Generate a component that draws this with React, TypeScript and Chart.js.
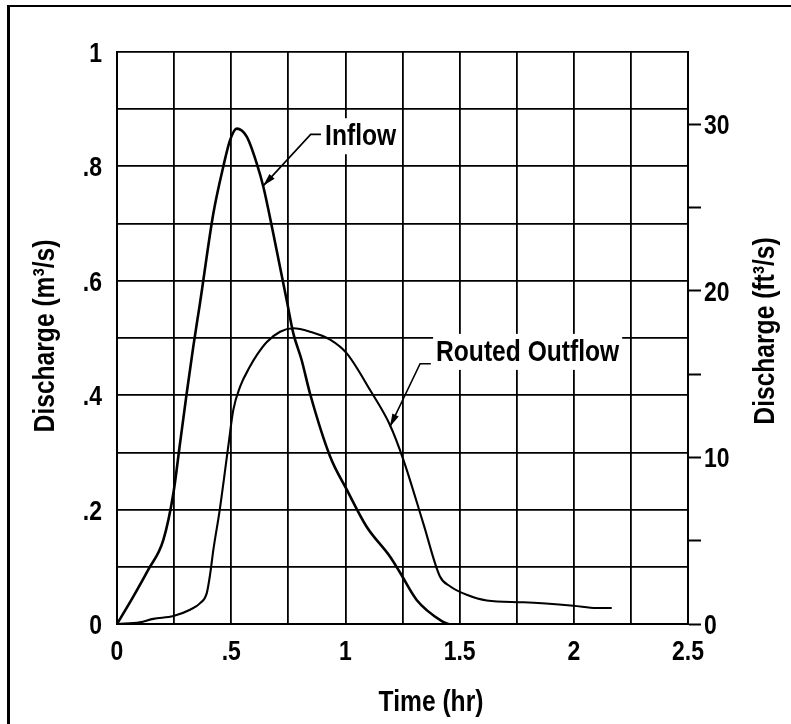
import React, { useEffect, useRef } from 'react';
import { Chart, registerables } from 'chart.js';

Chart.register(...registerables);

const FONT = "'Liberation Sans', Arial, sans-serif";
const NARROW = 0.82; // horizontal condensing to mimic a narrow sans face

// Inflow hydrograph (time in hr, discharge in m³/s)
const INFLOW_T = [0, 0.07, 0.137, 0.203, 0.247, 0.276, 0.305, 0.334, 0.363, 0.422, 0.465, 0.495, 0.524, 0.568, 0.612, 0.641, 0.684, 0.743, 0.772, 0.808, 0.845, 0.933, 1.006, 1.093, 1.195, 1.239, 1.312, 1.422, 1.451];
const INFLOW_Q = [0, 0.047, 0.095, 0.147, 0.229, 0.316, 0.403, 0.485, 0.56, 0.718, 0.799, 0.846, 0.866, 0.852, 0.805, 0.764, 0.683, 0.566, 0.508, 0.462, 0.403, 0.293, 0.235, 0.170, 0.118, 0.09, 0.042, 0.005, 0];

// Routed outflow hydrograph
const OUTFLOW_T = [0, 0.1, 0.159, 0.247, 0.32, 0.363, 0.393, 0.407, 0.422, 0.45, 0.487, 0.509, 0.539, 0.582, 0.612, 0.656, 0.714, 0.772, 0.845, 0.933, 1.006, 1.108, 1.195, 1.254, 1.341, 1.414, 1.458, 1.531, 1.619, 1.779, 1.998, 2.1, 2.166];
const OUTFLOW_Q = [0, 0.003, 0.009, 0.014, 0.025, 0.036, 0.054, 0.085, 0.13, 0.2, 0.31, 0.374, 0.415, 0.45, 0.47, 0.493, 0.511, 0.517, 0.511, 0.497, 0.473, 0.409, 0.348, 0.287, 0.176, 0.083, 0.066, 0.051, 0.041, 0.038, 0.032, 0.028, 0.028];

// Axis ticks and labels
const X_TICKS = [0, 0.25, 0.5, 0.75, 1, 1.25, 1.5, 1.75, 2, 2.25, 2.5];
const X_TICK_LABELS = ['0', '', '.5', '', '1', '', '1.5', '', '2', '', '2.5'];
const Y_TICKS = [0, 0.1, 0.2, 0.3, 0.4, 0.5, 0.6, 0.7, 0.8, 0.9, 1];
const Y_TICK_LABELS = ['0', '', '.2', '', '.4', '', '.6', '', '.8', '', '1'];
const Y2_TICKS = [0, 5, 10, 15, 20, 25, 30];
const Y2_TICK_LABELS = ['0', '', '10', '', '20', '', '30'];
const Y2_MAX = 34.34;

const X_TITLE = 'Time (hr)';
const Y_TITLE = 'Discharge (m³/s)';
const Y2_TITLE = 'Discharge (ft³/s)';

// Callout labels: text, baseline-left anchor, leader start, elbow, arrow tip (data coords)
const CALLOUT_TEXT = ['Inflow', 'Routed Outflow'];
const CALLOUT_ANCHOR = [[0.911, 0.837], [1.397, 0.46]];
const CALLOUT_START = [[0.893, 0.856], [1.374, 0.455]];
const CALLOUT_ELBOW = [[0.848, 0.856], [1.327, 0.455]];
const CALLOUT_TIP = [[0.64, 0.766], [1.195, 0.345]];

const toPoints = (t: number[], q: number[]) => t.map((v, i) => ({ x: v, y: q[i] }));

function narrowText(ctx: CanvasRenderingContext2D, text: string, x: number, y: number, size: number, align: CanvasTextAlign, rotate = 0) {
  ctx.save();
  ctx.font = `bold ${size}px ${FONT}`;
  ctx.fillStyle = '#000';
  ctx.textAlign = align;
  ctx.textBaseline = 'alphabetic';
  ctx.translate(x, y);
  if (rotate) ctx.rotate(rotate);
  ctx.scale(NARROW, 1);
  ctx.fillText(text, 0, 0);
  ctx.restore();
}

function narrowWidth(ctx: CanvasRenderingContext2D, text: string, size: number) {
  ctx.save();
  ctx.font = `bold ${size}px ${FONT}`;
  const w = ctx.measureText(text).width * NARROW;
  ctx.restore();
  return w;
}

const CALLOUT_SIZE = 30;
const TICK_SIZE = 28;
const TITLE_SIZE = 30;

const textPlugin = {
  id: 'narrowText',
  beforeDatasetsDraw(chart: any) {
    const { ctx, scales } = chart;
    ctx.save();
    CALLOUT_TEXT.forEach((txt, i) => {
      const x = scales.x.getPixelForValue(CALLOUT_ANCHOR[i][0]);
      const y = scales.y.getPixelForValue(CALLOUT_ANCHOR[i][1]);
      const w = narrowWidth(ctx, txt, CALLOUT_SIZE);
      ctx.fillStyle = '#fff';
      ctx.fillRect(x - 3, y - 27, w + 6, 36);
    });
    ctx.restore();
  },
  afterDatasetsDraw(chart: any) {
    const { ctx, scales } = chart;
    const px = (p: number[]) => [scales.x.getPixelForValue(p[0]), scales.y.getPixelForValue(p[1])];
    CALLOUT_TEXT.forEach((txt, i) => {
      const [ax, ay] = px(CALLOUT_ANCHOR[i]);
      narrowText(ctx, txt, ax, ay, CALLOUT_SIZE, 'left');
      const [sx, sy] = px(CALLOUT_START[i]);
      const [ex, ey] = px(CALLOUT_ELBOW[i]);
      const [tx, ty] = px(CALLOUT_TIP[i]);
      ctx.save();
      ctx.strokeStyle = '#000';
      ctx.fillStyle = '#000';
      ctx.lineWidth = 1.6;
      ctx.beginPath();
      ctx.moveTo(sx, sy);
      ctx.lineTo(ex, ey);
      ctx.lineTo(tx, ty);
      ctx.stroke();
      const ang = Math.atan2(ty - ey, tx - ex);
      const L = 13, H = 3.5;
      ctx.beginPath();
      ctx.moveTo(tx, ty);
      ctx.lineTo(tx - L * Math.cos(ang) + H * Math.sin(ang), ty - L * Math.sin(ang) - H * Math.cos(ang));
      ctx.lineTo(tx - L * Math.cos(ang) - H * Math.sin(ang), ty - L * Math.sin(ang) + H * Math.cos(ang));
      ctx.closePath();
      ctx.fill();
      ctx.restore();
    });
  },
  afterDraw(chart: any) {
    const { ctx, scales, chartArea } = chart;
    // tick labels, positioned by the chart's own scales
    const capHalf = 10;
    scales.y.ticks.forEach((t: any, i: number) => {
      const lbl = Y_TICK_LABELS[i];
      if (!lbl) return;
      narrowText(ctx, lbl, chartArea.left - 15, scales.y.getPixelForValue(t.value) + capHalf, TICK_SIZE, 'right');
    });
    scales.y2.ticks.forEach((t: any, i: number) => {
      const lbl = Y2_TICK_LABELS[i];
      if (!lbl) return;
      narrowText(ctx, lbl, chartArea.right + 16, scales.y2.getPixelForValue(t.value) + capHalf, TICK_SIZE, 'left');
    });
    scales.x.ticks.forEach((t: any, i: number) => {
      const lbl = X_TICK_LABELS[i];
      if (!lbl) return;
      narrowText(ctx, lbl, scales.x.getPixelForValue(t.value), chartArea.bottom + 36, TICK_SIZE, 'center');
    });
    // axis titles
    narrowText(ctx, X_TITLE, 431, 711, TITLE_SIZE, 'center');
    narrowText(ctx, Y_TITLE, 54, 336, TITLE_SIZE, 'center', -Math.PI / 2);
    narrowText(ctx, Y2_TITLE, 774, 331, TITLE_SIZE, 'center', -Math.PI / 2);
  },
};

export default function App() {
  const ref = useRef<HTMLCanvasElement | null>(null);

  useEffect(() => {
    if (!ref.current) return;
    const chart = new Chart(ref.current, {
      type: 'line',
      data: {
        datasets: [
          {
            label: 'Inflow',
            data: toPoints(INFLOW_T, INFLOW_Q),
            borderColor: '#000',
            borderWidth: 2.6,
            pointRadius: 0,
            cubicInterpolationMode: 'monotone',
            yAxisID: 'y',
          },
          {
            label: 'Routed Outflow',
            data: toPoints(OUTFLOW_T, OUTFLOW_Q),
            borderColor: '#000',
            borderWidth: 2.1,
            pointRadius: 0,
            cubicInterpolationMode: 'monotone',
            yAxisID: 'y',
          },
        ],
      },
      options: {
        responsive: false,
        animation: false,
        layout: { padding: { top: 52, left: 0, right: 0, bottom: 0 } },
        plugins: { legend: { display: false }, tooltip: { enabled: false } },
        scales: {
          x: {
            type: 'linear',
            min: 0,
            max: 2.5,
            afterBuildTicks: (s: any) => { s.ticks = X_TICKS.map((v) => ({ value: v })); },
            afterFit: (s: any) => { s.height = 100; },
            grid: { color: '#000', lineWidth: 1.8, drawTicks: false },
            border: { color: '#000', width: 2 },
            ticks: { display: false, autoSkip: false },
          },
          y: {
            type: 'linear',
            position: 'left',
            min: 0,
            max: 1,
            afterBuildTicks: (s: any) => { s.ticks = Y_TICKS.map((v) => ({ value: v })); },
            afterFit: (s: any) => { s.width = 117; },
            grid: { color: '#000', lineWidth: 1.8, drawTicks: false },
            border: { color: '#000', width: 2 },
            ticks: { display: false, autoSkip: false },
          },
          y2: {
            type: 'linear',
            position: 'right',
            min: 0,
            max: Y2_MAX,
            afterBuildTicks: (s: any) => { s.ticks = Y2_TICKS.map((v) => ({ value: v })); },
            afterFit: (s: any) => { s.width = 103; },
            grid: { drawOnChartArea: false, drawTicks: true, tickLength: 13, tickWidth: 2, tickColor: '#000', color: '#000' },
            border: { display: true, color: '#000', width: 2 },
            ticks: { display: false, autoSkip: false },
          },
        },
      },
      plugins: [textPlugin],
    } as any);
    return () => chart.destroy();
  }, []);

  return (
    <div style={{ position: 'absolute', left: 0, top: 0, width: 791, height: 724, overflow: 'hidden', background: '#fff' }}>
      <canvas ref={ref} width={791} height={724} style={{ display: 'block', position: 'absolute', left: 0, top: 0 }} />
      <div style={{ position: 'absolute', left: 7, top: 5, width: 900, height: 900, borderLeft: '3px solid #000', borderTop: '2px solid #000', pointerEvents: 'none' }} />
    </div>
  );
}
